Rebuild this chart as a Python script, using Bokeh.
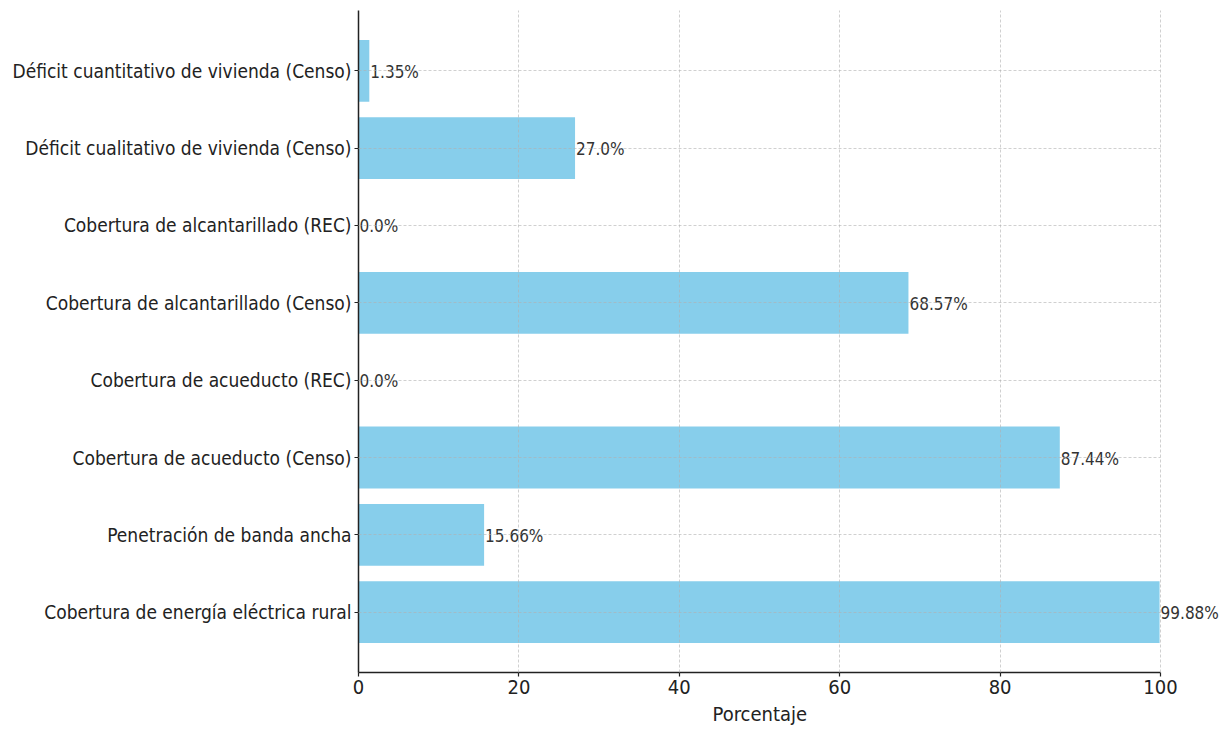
from bokeh.plotting import figure
from bokeh.models import FactorRange, Range1d, FixedTicker, ColumnDataSource, Title
from bokeh.core.properties import value
from bokeh.embed import file_html
from bokeh.resources import INLINE

# Data (top to bottom as in the reference)
categories = [
    "Déficit cuantitativo de vivienda (Censo)",
    "Déficit cualitativo de vivienda (Censo)",
    "Cobertura de alcantarillado (REC)",
    "Cobertura de alcantarillado (Censo)",
    "Cobertura de acueducto (REC)",
    "Cobertura de acueducto (Censo)",
    "Penetración de banda ancha",
    "Cobertura de energía eléctrica rural",
]
values = [1.35, 27.0, 0.0, 68.57, 0.0, 87.44, 15.66, 99.88]
x_ticks = [0, 20, 40, 60, 80, 100]
x_label = "Porcentaje"

FONT = "DejaVu Sans Condensed"

factors = list(reversed(categories))
src = ColumnDataSource(dict(
    cat=categories,
    val=values,
    lab=[f"{v}%" for v in values],
))

# Visible axis spans 0..100; the frame extends a little further right so the
# last value label (beyond 100) is not clipped.
x_lo, x_hi = x_ticks[0], x_ticks[-1]
p = figure(
    width=1225, height=736,
    y_range=FactorRange(factors=factors, range_padding=0.28, range_padding_units="absolute"),
    x_range=Range1d(x_lo, x_hi * 1.081),
    output_backend="svg", toolbar_location=None,
    min_border_left=358, min_border_right=0, min_border_top=10, min_border_bottom=64,
)
p.outline_line_color = None
p.background_fill_color = "white"
p.border_fill_color = "white"

p.hbar(y="cat", right="val", left=0, height=0.8, source=src,
       fill_color="#87CEEB", line_color=None)

p.text(x="val", y="cat", text="lab", source=src,
       text_font=value(FONT), text_font_size="17px", text_color="#333333",
       text_baseline="alphabetic", text_align="left", x_offset=1, y_offset=1)

# Grid above bars, dashed light gray
for g in (p.xgrid, p.ygrid):
    g.grid_line_color = "#b0b0b0"
    g.grid_line_alpha = 0.6
    g.grid_line_dash = "3 2"
    g.grid_line_width = 1
    g.level = "overlay"
p.xgrid.bounds = (x_lo, x_hi)
if hasattr(p.ygrid[0], "cross_bounds"):
    p.ygrid.cross_bounds = (x_lo, x_hi)

p.xaxis.ticker = FixedTicker(ticks=x_ticks)
p.xaxis.bounds = (x_lo, x_hi)

for ax in (p.xaxis, p.yaxis):
    ax.axis_line_color = "#222222"
    ax.axis_line_width = 1.5
    ax.major_tick_line_color = "#222222"
    ax.major_tick_line_width = 1.2
    ax.major_tick_out = 4
    ax.major_tick_in = 0
    ax.minor_tick_line_color = None
    ax.major_label_text_font = FONT
    ax.major_label_text_color = "#222222"

p.yaxis.major_label_text_font_size = "19px"
p.xaxis.major_label_text_font_size = "20px"
p.yaxis.major_label_standoff = 3
p.xaxis.major_label_standoff = 3

# x-axis label, centred under the 0..100 span of the axis
p.add_layout(Title(text=x_label, align="left", offset=354, standoff=6,
                   text_font=FONT, text_font_size="20px",
                   text_font_style="normal", text_color="#222222"), "below")

open("out.html", "w").write(file_html(p, INLINE))
